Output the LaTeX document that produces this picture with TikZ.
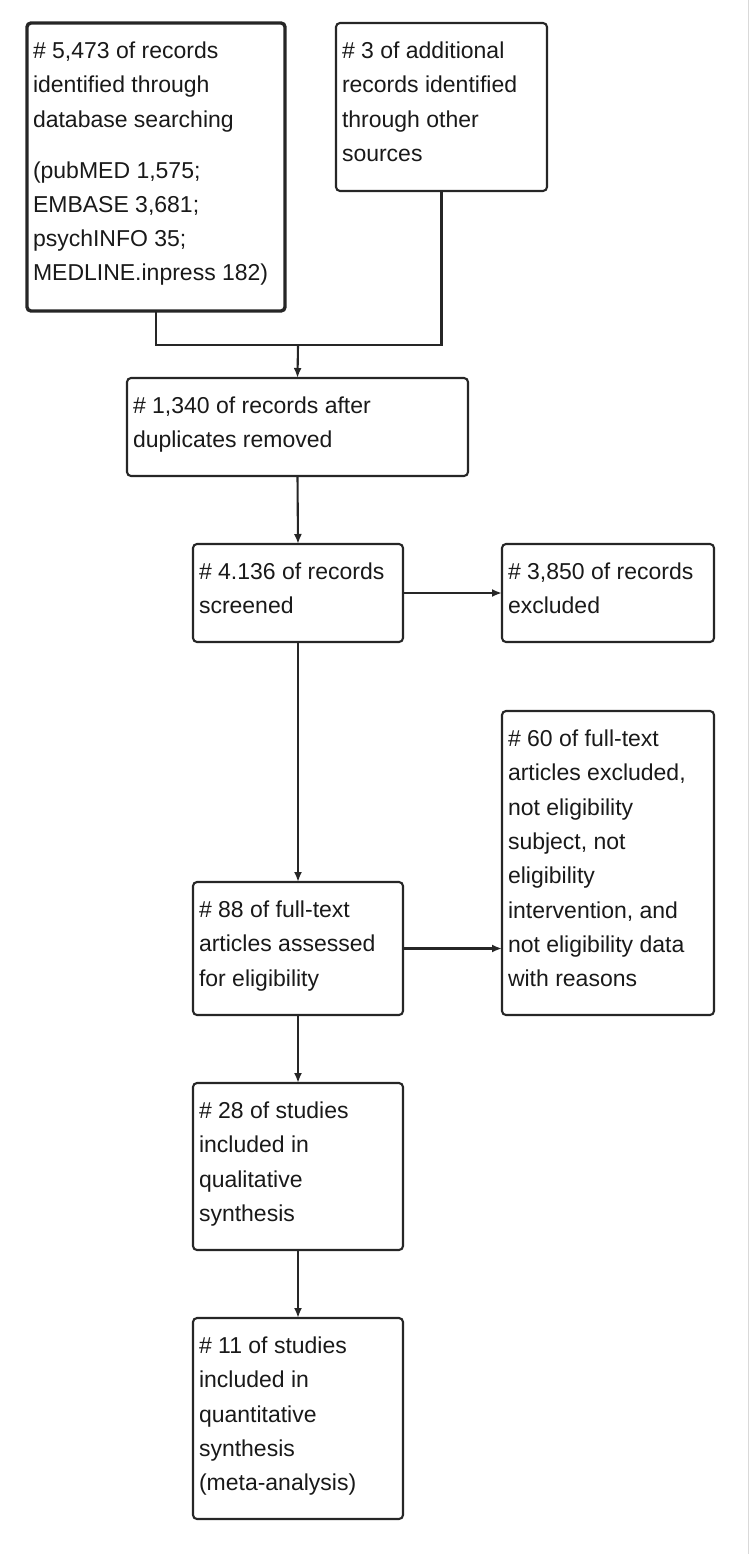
\documentclass[tikz,border=0pt]{standalone}
\usepackage{fontspec}
\setmainfont{Liberation Sans}
\usetikzlibrary{arrows.meta}
\newcommand\bt[3]{\parbox[t][#2pt][t]{#1pt}{\raggedright\vspace*{19pt}#3}}
\begin{document}
\begin{tikzpicture}[x=1pt,y=-1pt,
 box/.style={draw=black!85, line width=2.1pt, rounded corners=4pt, anchor=north west,
   inner xsep=6pt, inner ysep=0pt, outer sep=0pt,
   font=\fontsize{23}{34.3}\selectfont, text=black!90},
 thickbox/.style={box, line width=3.4pt},
 conn/.style={draw=black!85, line width=2.1pt},
 arr/.style={conn, -{Latex[length=10pt,width=8pt]}}]
\useasboundingbox (0,0) rectangle (750,1554);
\draw[gray!30, line width=1pt] (748.5,0) -- (748.5,1554);
\node[thickbox] (A) at (27,23) {\bt{246}{288}{\# 5,473 of records\\identified through\\database searching\\[16.5pt](pubMED 1,575;\\EMBASE 3,681;\\psychINFO 35;\\MEDLINE.inpress 182)}};
\node[box] (B) at (336,23) {\bt{199}{168}{\# 3 of additional\\records identified\\through other\\sources}};
\node[box] (C) at (127,378) {\bt{329}{98}{\# 1,340 of records after\\duplicates removed}};
\node[box] (D) at (193,544) {\bt{198}{98}{\# 4.136 of records\\screened}};
\node[box] (E) at (502,544) {\bt{200}{98}{\# 3,850 of records\\excluded}};
\node[box] (F) at (193,882) {\bt{198}{133}{\# 88 of full-text\\articles assessed\\for eligibility}};
\node[box] (G) at (502,711) {\bt{200}{304}{\# 60 of full-text\\articles excluded,\\not eligibility\\subject, not\\eligibility\\intervention, and\\not eligibility data\\with reasons}};
\node[box] (H) at (193,1083) {\bt{198}{167}{\# 28 of studies\\included in\\qualitative\\synthesis}};
\node[box] (I) at (193,1318) {\bt{198}{201}{\# 11 of studies\\included in\\quantitative\\synthesis\\(meta-analysis)}};
\coordinate (j) at (298,345);
\draw[conn] (A.south) |- (j) -| (B.south);
\draw[arr] (j) -- (C.north);
\draw[arr] (C.south) -- (D.north);
\draw[arr] (D.east) -- (E.west);
\draw[arr] (D.south) -- (F.north);
\draw[arr] (F.east) -- (F.east -| G.west);
\draw[arr] (F.south) -- (H.north);
\draw[arr] (H.south) -- (I.north);
\end{tikzpicture}
\end{document}
